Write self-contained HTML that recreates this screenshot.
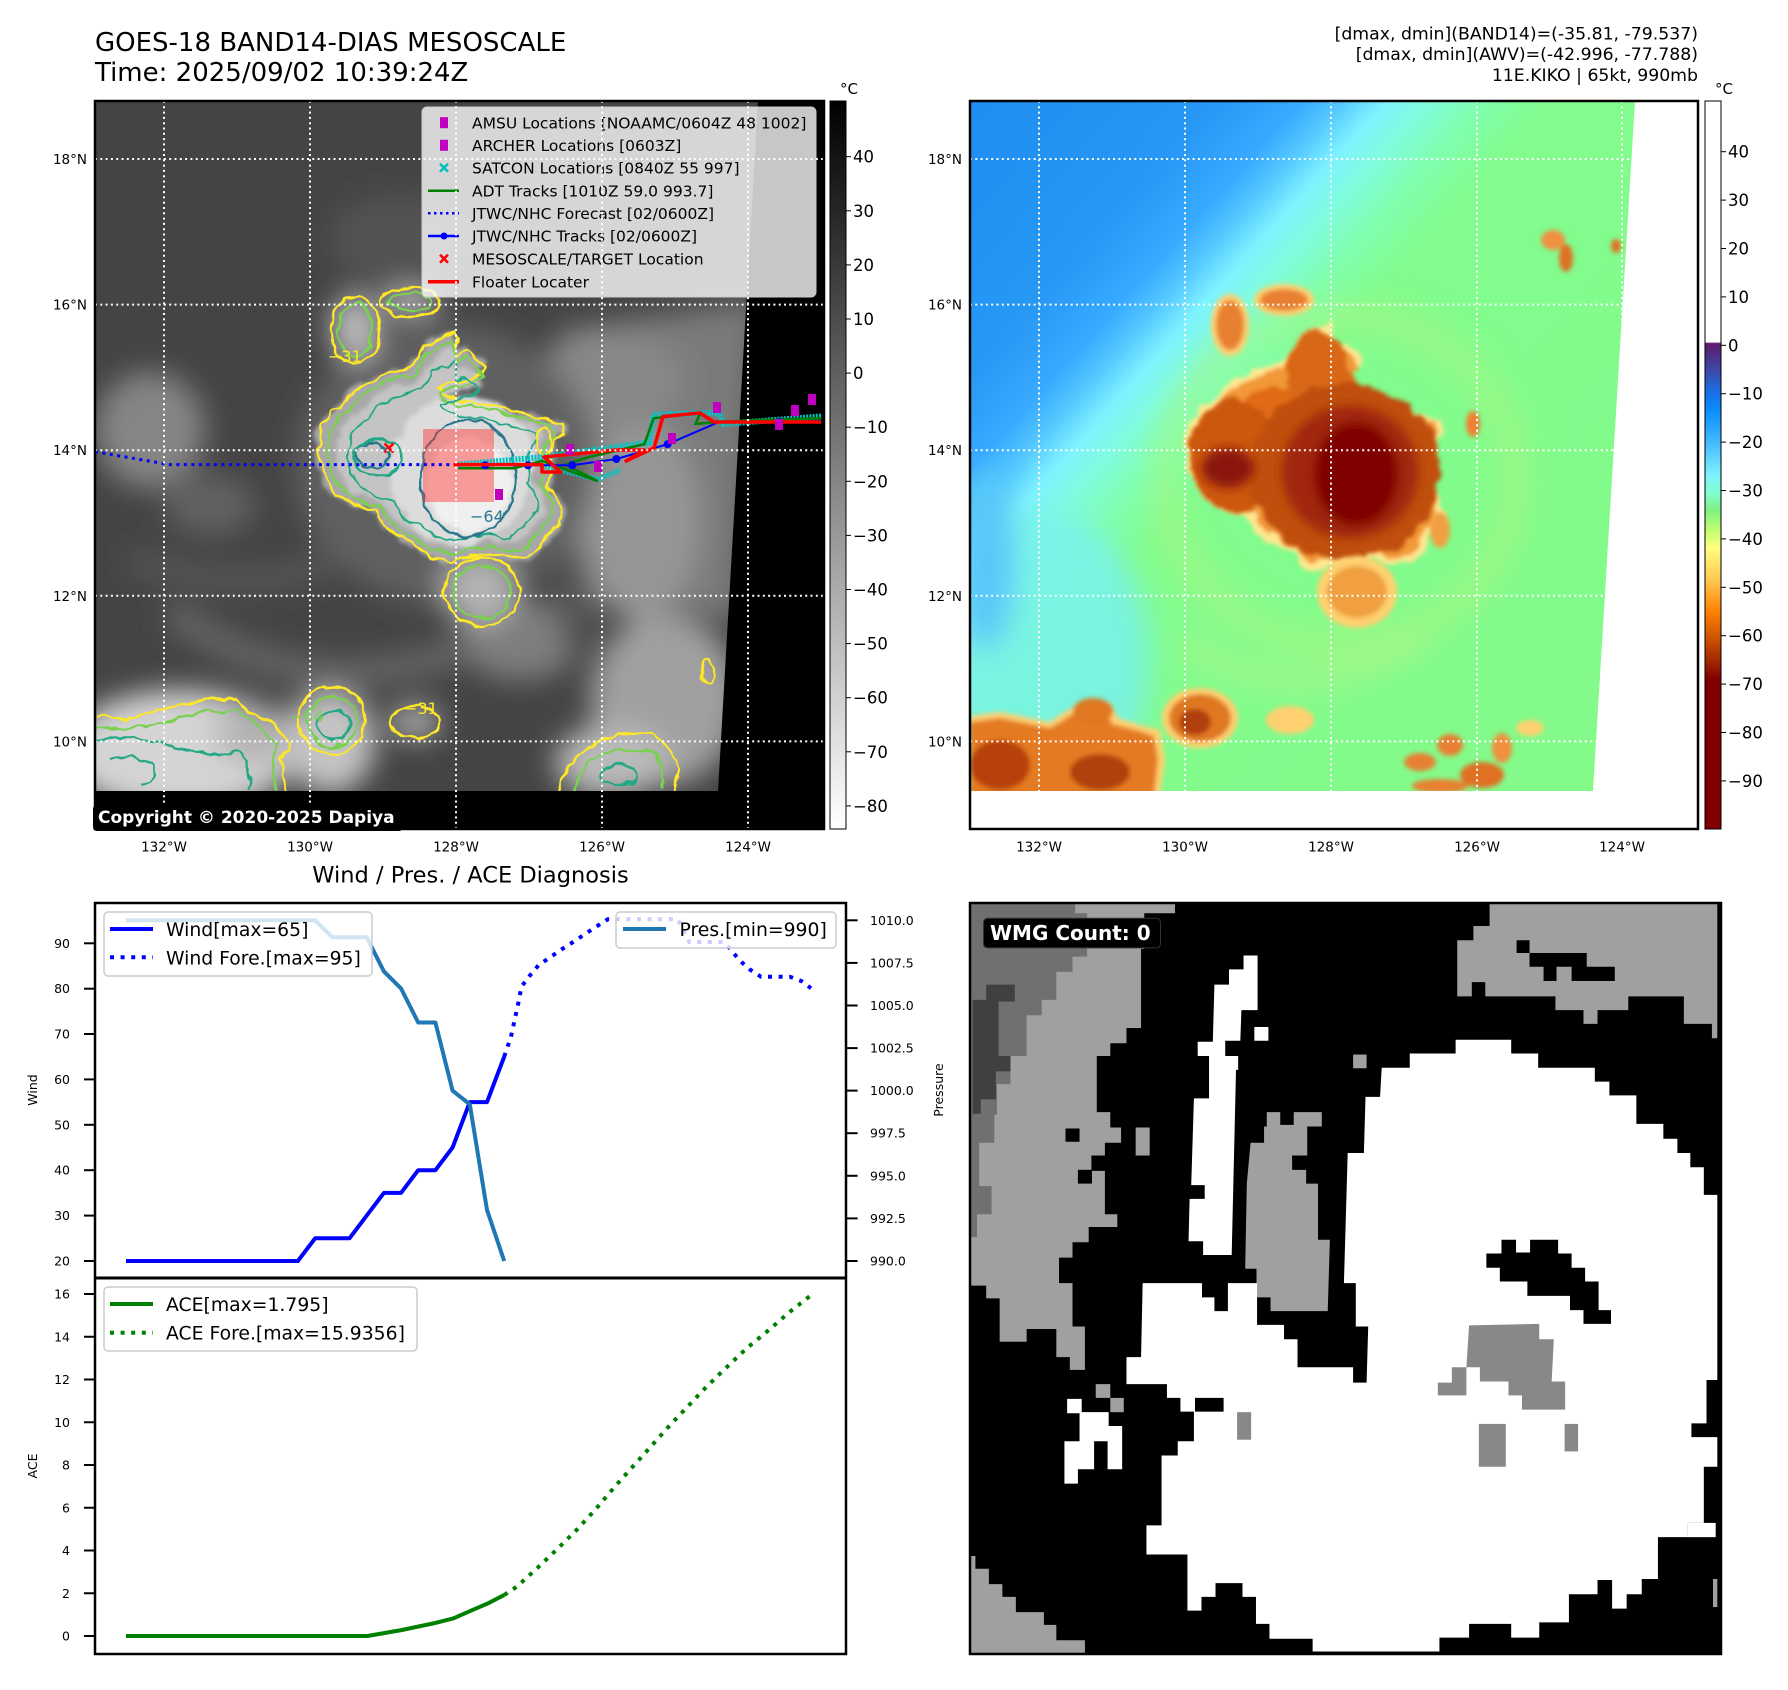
<!DOCTYPE html>
<html><head><meta charset="utf-8"><style>html,body{margin:0;padding:0;background:#fff}svg{display:block}</style></head><body>
<svg width="1788" height="1690" viewBox="0 0 1788 1690" xmlns="http://www.w3.org/2000/svg" xmlns:xlink="http://www.w3.org/1999/xlink" font-family="'DejaVu Sans','Liberation Sans',sans-serif">
<defs>
<clipPath id="lclip"><polygon points="95,101 758,101 718,791 95,791"/></clipPath>
<clipPath id="rclip"><polygon points="970,101 1635,101 1593,791 970,791"/></clipPath>
<clipPath id="laxes"><rect x="95" y="101" width="729" height="728"/></clipPath>
<clipPath id="raxes"><rect x="970" y="101" width="728" height="728"/></clipPath>
<filter id="b14" x="-50%" y="-50%" width="200%" height="200%"><feGaussianBlur stdDeviation="14"/></filter>
<filter id="b6" x="-30%" y="-30%" width="160%" height="160%"><feGaussianBlur stdDeviation="5"/></filter>
<filter id="b3" x="-30%" y="-30%" width="160%" height="160%"><feGaussianBlur stdDeviation="2.5"/></filter>
<filter id="jag" x="-10%" y="-10%" width="120%" height="120%"><feTurbulence type="fractalNoise" baseFrequency="0.07" numOctaves="2" seed="3" result="n"/><feDisplacementMap in="SourceGraphic" in2="n" scale="9" xChannelSelector="R" yChannelSelector="G"/></filter>
<filter id="jagb" x="-20%" y="-20%" width="140%" height="140%"><feTurbulence type="fractalNoise" baseFrequency="0.05" numOctaves="3" seed="7" result="n"/><feDisplacementMap in="SourceGraphic" in2="n" scale="16" xChannelSelector="R" yChannelSelector="G" result="d"/><feGaussianBlur in="d" stdDeviation="2"/></filter>
<linearGradient id="cb1" x1="0" y1="0" x2="0" y2="1"><stop offset="0" stop-color="#000"/><stop offset="1" stop-color="#fff"/></linearGradient>
<linearGradient id="cb2" x1="0" y1="0" x2="0" y2="1">
<stop offset="0" stop-color="#fff"/><stop offset="0.331" stop-color="#fff"/>
<stop offset="0.333" stop-color="#5e1a6c"/><stop offset="0.37" stop-color="#3c4aa8"/>
<stop offset="0.40" stop-color="#1a6ee6"/><stop offset="0.424" stop-color="#0a8cff"/>
<stop offset="0.466" stop-color="#40b6ff"/><stop offset="0.514" stop-color="#7ef2ff"/>
<stop offset="0.541" stop-color="#80ffc8"/><stop offset="0.562" stop-color="#80f080"/>
<stop offset="0.59" stop-color="#c0ff70"/><stop offset="0.613" stop-color="#ffff80"/>
<stop offset="0.658" stop-color="#ffc850"/><stop offset="0.702" stop-color="#ff8000"/>
<stop offset="0.747" stop-color="#c04800"/><stop offset="0.795" stop-color="#800000"/>
<stop offset="1" stop-color="#800000"/></linearGradient>
<linearGradient id="bgR" gradientUnits="userSpaceOnUse" x1="970" y1="101" x2="1735" y2="789">
<stop offset="0" stop-color="#1e8ef0"/><stop offset="0.18" stop-color="#2898f5"/>
<stop offset="0.24" stop-color="#38aaff"/><stop offset="0.27" stop-color="#55c8ff"/>
<stop offset="0.30" stop-color="#7ef2ff"/><stop offset="0.33" stop-color="#80fce0"/>
<stop offset="0.37" stop-color="#80ffb0"/><stop offset="0.42" stop-color="#82fc8e"/>
<stop offset="1" stop-color="#84fa88"/></linearGradient>
<path id="storm" d="M318.5,449.8 L323.1,423.9 L332.4,412.8 L346.4,401.7 L355.7,390.6 L374.3,379.5 L392.9,372.1 L411.6,368.4 L420.9,357.3 L425.5,346.2 L439.5,338.8 L453.5,331.4 L457.2,342.5 L455.8,357.3 L467.4,349.9 L481.4,361 L486.1,368.4 L472.1,377.6 L448.8,383.2 L439.5,386.9 L441.8,394.3 L462.8,401.7 L495.4,405.4 L518.7,412.8 L541.9,418.3 L560.6,423.9 L562.9,435 L553.6,438.7 L548.9,453.5 L551.2,472 L546.6,486.8 L555.9,494.2 L560.6,509 L560.6,523.8 L551.2,531.2 L541.9,542.3 L528,557.1 L514,557.1 L495.4,553.4 L467.4,557.1 L453.5,560.8 L430.2,557.1 L411.6,542.3 L392.9,534.9 L383.6,523.8 L374.3,509 L355.7,505.3 L337.1,494.2 L327.8,479.4 L320.8,468.3 Z"/>
</defs>
<rect width="1788" height="1690" fill="#fff"/>

<!-- Titles -->
<text x="95" y="51" font-size="26" fill="#000">GOES-18 BAND14-DIAS MESOSCALE</text>
<text x="95" y="81" font-size="26" fill="#000">Time: 2025/09/02 10:39:24Z</text>
<g font-size="17.3" fill="#000" text-anchor="end">
<text x="1698" y="39.5">[dmax, dmin](BAND14)=(-35.81, -79.537)</text>
<text x="1698" y="60">[dmax, dmin](AWV)=(-42.996, -77.788)</text>
<text x="1698" y="81">11E.KIKO | 65kt, 990mb</text>
</g>

<!-- ================= LEFT MAP ================= -->
<rect x="95" y="101" width="729" height="728" fill="#000"/>
<g clip-path="url(#lclip)">
<rect x="95" y="101" width="670" height="700" fill="#444444"/>
<g filter="url(#b14)">
<ellipse cx="400" cy="240" rx="70" ry="45" fill="#525252"/>
<ellipse cx="150" cy="430" rx="55" ry="58" fill="#858585"/>
<ellipse cx="210" cy="505" rx="45" ry="30" fill="#626262"/>
<path d="M170,610 Q300,710 460,650" fill="none" stroke="#686868" stroke-width="26"/>
<path d="M130,560 Q260,600 330,560" fill="none" stroke="#5a5a5a" stroke-width="20"/>
<polygon points="560,330 758,300 740,620 560,600" fill="#7a7a7a"/>
<ellipse cx="640" cy="520" rx="60" ry="100" fill="#969696"/>
<ellipse cx="665" cy="700" rx="75" ry="85" fill="#a0a0a0"/>
<ellipse cx="520" cy="640" rx="60" ry="40" fill="#7e7e7e"/>
<ellipse cx="610" cy="380" rx="75" ry="50" fill="#888888"/>
<ellipse cx="575" cy="600" rx="18" ry="55" fill="#555555"/>
<ellipse cx="445" cy="465" rx="150" ry="140" fill="#606060"/>
<ellipse cx="180" cy="752" rx="115" ry="62" fill="#d4d4d4"/>
<ellipse cx="330" cy="742" rx="45" ry="52" fill="#c4c4c4"/>
<ellipse cx="255" cy="735" rx="40" ry="30" fill="#b4b4b4"/>
<ellipse cx="612" cy="762" rx="58" ry="36" fill="#bababa"/>
<ellipse cx="415" cy="722" rx="26" ry="18" fill="#a8a8a8"/>
<ellipse cx="355" cy="328" rx="24" ry="34" fill="#bcbcbc"/>
<ellipse cx="410" cy="302" rx="30" ry="15" fill="#b0b0b0"/>
<ellipse cx="480" cy="590" rx="38" ry="36" fill="#b2b2b2"/>
</g>
<g filter="url(#jagb)">
<use xlink:href="#storm" href="#storm" fill="#a8a8a8" transform="translate(440 455) scale(1.03) translate(-440 -455)"/>
<use xlink:href="#storm" href="#storm" fill="#c4c4c4" transform="translate(445 460) scale(0.86) translate(-445 -460)"/>
<ellipse cx="462" cy="470" rx="72" ry="74" fill="#dcdcdc"/>
<ellipse cx="468" cy="484" rx="42" ry="48" fill="#f0f0f0"/>
</g>
<!-- contours -->
<g fill="none" stroke-width="2.4" stroke-linejoin="round" filter="url(#jag)">
<use xlink:href="#storm" href="#storm" stroke="#fde725"/>
<use xlink:href="#storm" href="#storm" stroke="#7ad151" transform="translate(445 460) scale(0.93) translate(-445 -460)"/>
<use xlink:href="#storm" href="#storm" stroke="#22a884" transform="translate(452 468) scale(0.78) translate(-452 -468)"/>
<ellipse cx="468" cy="478" rx="48" ry="58" stroke="#2a788e"/>
<ellipse cx="372" cy="455" rx="16" ry="12" stroke="#2a788e"/>
<ellipse cx="378" cy="458" rx="24" ry="18" stroke="#22a884"/>
<ellipse cx="355" cy="330" rx="24" ry="34" stroke="#fde725"/>
<ellipse cx="355" cy="330" rx="17" ry="27" stroke="#7ad151"/>
<ellipse cx="410" cy="302" rx="30" ry="15" stroke="#fde725"/>
<ellipse cx="410" cy="302" rx="22" ry="9" stroke="#7ad151"/>
<ellipse cx="482" cy="592" rx="38" ry="34" stroke="#fde725"/>
<ellipse cx="482" cy="592" rx="28" ry="26" stroke="#7ad151"/>
<path d="M95,716 L123,720 L151,712 L179,705 L197,701 L216,698 L235,699 L249,712 L267,720 L281,731 L290,742 L281,761 L286,792" stroke="#fde725"/>
<path d="M95,726 L125,730 L160,722 L200,712 L235,710 L262,728 L278,745 L272,765 L276,792" stroke="#7ad151"/>
<path d="M95,740 Q140,735 170,745 Q210,760 240,752 Q255,770 250,792" stroke="#22a884"/>
<path d="M110,760 Q130,750 150,765 Q160,780 140,785" stroke="#22a884"/>
<ellipse cx="332" cy="720" rx="34" ry="33" stroke="#fde725"/>
<ellipse cx="332" cy="722" rx="25" ry="25" stroke="#7ad151"/>
<ellipse cx="334" cy="726" rx="15" ry="15" stroke="#22a884"/>
<ellipse cx="415" cy="722" rx="24" ry="16" stroke="#fde725"/>
<path d="M560,792 Q565,760 590,745 Q620,730 650,735 Q675,745 677,770 L676,792" stroke="#fde725"/>
<path d="M572,792 Q580,765 605,752 Q630,745 655,752 Q665,770 662,792" stroke="#7ad151"/>
<ellipse cx="620" cy="775" rx="18" ry="10" stroke="#22a884"/>
<ellipse cx="708" cy="672" rx="6" ry="12" stroke="#fde725"/>
<ellipse cx="544" cy="442" rx="6" ry="14" stroke="#fde725"/>
</g>
<g font-size="16">
<text x="328" y="362" fill="#fde725">−31</text>
<text x="470" y="522" fill="#2a788e">−64</text>
<text x="404" y="714" fill="#fde725">−31</text>
<text x="290" y="722" fill="#7ad151">−54</text>
</g>
<rect x="423" y="429" width="71" height="73" fill="#ff3030" opacity="0.45"/>
</g>
<!-- tracks -->
<g clip-path="url(#laxes)">
<polyline points="95,451.6 169.5,464.6 453.5,464.6" fill="none" stroke="#0000ff" stroke-width="3" stroke-dasharray="3 4.5"/>
<polyline points="458,464.6 542,457.2 649,442.4 653.7,414.6 718.9,412.8 723.5,423.9 821.3,416.5" fill="none" stroke="#00c4c4" stroke-width="6" stroke-dasharray="2 1.2"/>
<polyline points="542,466 597.8,479.4 620,470" fill="none" stroke="#00c4c4" stroke-width="5" stroke-dasharray="2 1.2"/>
<polyline points="458.1,468.3 514,468.3 541.9,460.9 597.8,481.2 565.2,464.6 588.5,457.2 644.3,444.2 653.7,418.3 700.2,412.8 695.6,423.9 718.9,422 756.1,420.2 821.3,418.3" fill="none" stroke="#008000" stroke-width="2.5"/>
<polyline points="485.1,465.3 528,465.3 572.2,465.3 616.4,459 667.6,444.2 718.9,422 779.4,422 821,421" fill="none" stroke="#0000ff" stroke-width="2"/>
<g fill="#0000ff"><circle cx="485.1" cy="465.3" r="4"/><circle cx="528" cy="465.3" r="4"/><circle cx="572.2" cy="465.3" r="4"/><circle cx="616.4" cy="459" r="4"/><circle cx="667.6" cy="444.2" r="4"/><circle cx="779.4" cy="422" r="4"/></g>
<polyline points="453.5,464.6 542,464.6 542,472 560.5,472 544,457 616,450 644,450 626,461 654,448 663,416.5 700,413 714,422 821,422" fill="none" stroke="#ff0000" stroke-width="3.5" stroke-linejoin="round"/>
<g fill="#bf00bf">
<rect x="495" y="489" width="8" height="11"/><rect x="594" y="461" width="8" height="11"/><rect x="668" y="433" width="8" height="11"/><rect x="713" y="402" width="8" height="11"/><rect x="791" y="405" width="8" height="11"/><rect x="808" y="394" width="8" height="11"/><rect x="775" y="419" width="8" height="11"/><rect x="566" y="444" width="8" height="11"/>
</g>
<g stroke="#ff0000" stroke-width="2.5"><line x1="384.5" y1="443.5" x2="393.5" y2="452.5"/><line x1="393.5" y1="443.5" x2="384.5" y2="452.5"/></g>
</g>
<!-- legend -->
<rect x="422" y="107" width="394" height="190" rx="5" fill="#ffffff" fill-opacity="0.78" stroke="#cccccc" stroke-width="1"/>
<g font-size="15.5" fill="#000">
<text x="472" y="128.3">AMSU Locations [NOAAMC/0604Z 48 1002]</text>
<text x="472" y="150.9">ARCHER Locations [0603Z]</text>
<text x="472" y="173.3">SATCON Locations [0840Z 55 997]</text>
<text x="472" y="196.3">ADT Tracks [1010Z 59.0 993.7]</text>
<text x="472" y="218.9">JTWC/NHC Forecast [02/0600Z]</text>
<text x="472" y="241.6">JTWC/NHC Tracks [02/0600Z]</text>
<text x="472" y="264.3">MESOSCALE/TARGET Location</text>
<text x="472" y="287.3">Floater Locater</text>
</g>
<rect x="440" y="117.2" width="8" height="11" fill="#bf00bf"/>
<rect x="440" y="139.8" width="8" height="11" fill="#bf00bf"/>
<g stroke="#00bfbf" stroke-width="2.5"><line x1="440" y1="163.7" x2="448" y2="171.7"/><line x1="448" y1="163.7" x2="440" y2="171.7"/></g>
<line x1="428" y1="190.7" x2="459" y2="190.7" stroke="#008000" stroke-width="2.5"/>
<line x1="428" y1="213.3" x2="459" y2="213.3" stroke="#0000ff" stroke-width="2.5" stroke-dasharray="2.5 3.5"/>
<line x1="428" y1="236" x2="459" y2="236" stroke="#0000ff" stroke-width="2.5"/><circle cx="444" cy="236" r="3.5" fill="#0000ff"/>
<g stroke="#ff0000" stroke-width="2.5"><line x1="440" y1="254.7" x2="448" y2="262.7"/><line x1="448" y1="254.7" x2="440" y2="262.7"/></g>
<line x1="428" y1="281.7" x2="459" y2="281.7" stroke="#ff0000" stroke-width="3.5"/>
<!-- grid left -->
<g stroke="#ffffff" stroke-width="2" stroke-dasharray="2 3.3" clip-path="url(#laxes)">
<line x1="95" y1="159" x2="824" y2="159"/><line x1="95" y1="304.6" x2="824" y2="304.6"/><line x1="95" y1="450.2" x2="824" y2="450.2"/><line x1="95" y1="595.8" x2="824" y2="595.8"/><line x1="95" y1="741.4" x2="824" y2="741.4"/>
<line x1="164" y1="101" x2="164" y2="829"/><line x1="310" y1="101" x2="310" y2="829"/><line x1="456" y1="101" x2="456" y2="829"/><line x1="602" y1="101" x2="602" y2="829"/><line x1="748" y1="101" x2="748" y2="829"/>
</g>
<rect x="93" y="805" width="310" height="26" rx="4" fill="#000"/>
<text x="98" y="823" font-size="17" font-weight="bold" fill="#fff">Copyright © 2020-2025 Dapiya</text>
<rect x="95" y="101" width="729" height="728" fill="none" stroke="#000" stroke-width="2.5"/>
<!-- lat/lon labels left -->
<g font-size="13.5" fill="#000" text-anchor="end">
<text x="87" y="164">18°N</text><text x="87" y="309.6">16°N</text><text x="87" y="455.2">14°N</text><text x="87" y="600.8">12°N</text><text x="87" y="746.4">10°N</text>
</g>
<g font-size="13.5" fill="#000" text-anchor="middle">
<text x="164" y="851.5">132°W</text><text x="310" y="851.5">130°W</text><text x="456" y="851.5">128°W</text><text x="602" y="851.5">126°W</text><text x="748" y="851.5">124°W</text>
</g>
<!-- colorbar left -->
<rect x="830" y="101" width="16" height="728" fill="url(#cb1)" stroke="#000" stroke-width="1"/>
<text x="840" y="94" font-size="15" fill="#000">°C</text>
<g stroke="#000" stroke-width="1">
<line x1="846" y1="156.7" x2="851" y2="156.7"/><line x1="846" y1="210.8" x2="851" y2="210.8"/><line x1="846" y1="264.9" x2="851" y2="264.9"/><line x1="846" y1="319" x2="851" y2="319"/><line x1="846" y1="373.1" x2="851" y2="373.1"/><line x1="846" y1="427.2" x2="851" y2="427.2"/><line x1="846" y1="481.3" x2="851" y2="481.3"/><line x1="846" y1="535.4" x2="851" y2="535.4"/><line x1="846" y1="589.5" x2="851" y2="589.5"/><line x1="846" y1="643.6" x2="851" y2="643.6"/><line x1="846" y1="697.7" x2="851" y2="697.7"/><line x1="846" y1="751.8" x2="851" y2="751.8"/><line x1="846" y1="805.9" x2="851" y2="805.9"/>
</g>
<g font-size="16.5" fill="#000">
<text x="853" y="162.7">40</text><text x="853" y="216.8">30</text><text x="853" y="270.9">20</text><text x="853" y="325">10</text><text x="853" y="379.1">0</text><text x="853" y="433.2">−10</text><text x="853" y="487.3">−20</text><text x="853" y="541.4">−30</text><text x="853" y="595.5">−40</text><text x="853" y="649.6">−50</text><text x="853" y="703.7">−60</text><text x="853" y="757.8">−70</text><text x="853" y="811.9">−80</text>
</g>

<!-- ================= RIGHT MAP ================= -->
<rect x="970" y="101" width="728" height="728" fill="#fff"/>
<g clip-path="url(#rclip)">
<rect x="970" y="101" width="680" height="700" fill="url(#bgR)"/>
<g filter="url(#b14)">
<ellipse cx="1045" cy="660" rx="105" ry="150" fill="#78f2ec" opacity="0.85"/>
<ellipse cx="985" cy="560" rx="30" ry="90" fill="#58c8f8"/>
<ellipse cx="1340" cy="480" rx="175" ry="165" fill="none" stroke="#b0f880" stroke-width="30" opacity="0.5"/>
<path d="M1180,640 Q1290,720 1420,640" fill="none" stroke="#c0f888" stroke-width="18" opacity="0.55"/>
</g>
<g filter="url(#jagb)">
<use xlink:href="#storm" href="#storm" fill="#ffe890" transform="translate(875 0) translate(440 455) scale(1.07) translate(-440 -455)"/>
<use xlink:href="#storm" href="#storm" fill="#f29838" transform="translate(875 0)"/>
</g>
<g filter="url(#jagb)">
<use xlink:href="#storm" href="#storm" fill="#e06a14" transform="translate(875 0) translate(445 460) scale(0.85) translate(-445 -460)"/>
<ellipse cx="1235" cy="455" rx="45" ry="55" fill="#cc5810"/>
<ellipse cx="1318" cy="372" rx="30" ry="42" fill="#d86818"/>
<ellipse cx="1345" cy="472" rx="95" ry="88" fill="#c05010"/>
</g>
<g filter="url(#b6)">
<ellipse cx="1350" cy="472" rx="68" ry="66" fill="#a02808"/>
<ellipse cx="1356" cy="474" rx="42" ry="52" fill="#800000"/>
<ellipse cx="1228" cy="468" rx="26" ry="20" fill="#8a1808"/>
</g>
<g filter="url(#b3)">
<ellipse cx="1230" cy="325" rx="19" ry="31" fill="#ffd070"/>
<ellipse cx="1230" cy="325" rx="14" ry="25" fill="#e88030"/>
<ellipse cx="1284" cy="300" rx="30" ry="16" fill="#ffd070"/>
<ellipse cx="1284" cy="300" rx="24" ry="11" fill="#e88030"/>
<ellipse cx="1357" cy="592" rx="40" ry="36" fill="#ffd070"/>
<ellipse cx="1357" cy="592" rx="30" ry="26" fill="#f0a040"/>
<ellipse cx="1553" cy="240" rx="12" ry="10" fill="#f09040"/>
<ellipse cx="1566" cy="258" rx="7" ry="14" fill="#e07020"/>
<ellipse cx="1616" cy="246" rx="5" ry="7" fill="#e07020"/>
<ellipse cx="1473" cy="424" rx="7" ry="13" fill="#f08030"/>
<ellipse cx="1440" cy="530" rx="10" ry="18" fill="#f0a040"/>
<path d="M970,716 L1000,712 L1030,718 L1050,722 L1060,715 L1085,700 L1110,702 L1118,718 L1140,725 L1160,730 L1165,760 L1160,795 L970,795 Z" fill="#ffd070"/>
<path d="M970,722 L1000,718 L1030,724 L1050,728 L1062,721 L1085,706 L1106,708 L1112,724 L1140,731 L1154,736 L1158,760 L1154,795 L970,795 Z" fill="#e47a22"/>
<ellipse cx="1000" cy="765" rx="30" ry="25" fill="#b84008"/>
<ellipse cx="1100" cy="772" rx="30" ry="18" fill="#b04008"/>
<ellipse cx="1200" cy="718" rx="38" ry="30" fill="#ffd070"/>
<ellipse cx="1200" cy="718" rx="31" ry="24" fill="#e07820"/>
<ellipse cx="1195" cy="722" rx="16" ry="13" fill="#b04010"/>
<ellipse cx="1093" cy="711" rx="20" ry="13" fill="#e07820"/>
<ellipse cx="1420" cy="762" rx="16" ry="9" fill="#e88030"/>
<ellipse cx="1450" cy="745" rx="13" ry="11" fill="#e88030"/>
<ellipse cx="1482" cy="775" rx="22" ry="13" fill="#e07020"/>
<ellipse cx="1502" cy="748" rx="10" ry="15" fill="#f09040"/>
<ellipse cx="1440" cy="786" rx="28" ry="7" fill="#e88030"/>
<ellipse cx="1530" cy="728" rx="14" ry="8" fill="#ffd070"/>
<ellipse cx="1290" cy="720" rx="24" ry="14" fill="#ffd070"/>
</g>
</g>
<g stroke="#ffffff" stroke-width="2" stroke-dasharray="2 3.3" clip-path="url(#raxes)">
<line x1="970" y1="159" x2="1698" y2="159"/><line x1="970" y1="304.6" x2="1698" y2="304.6"/><line x1="970" y1="450.2" x2="1698" y2="450.2"/><line x1="970" y1="595.8" x2="1698" y2="595.8"/><line x1="970" y1="741.4" x2="1698" y2="741.4"/>
<line x1="1039" y1="101" x2="1039" y2="829"/><line x1="1185" y1="101" x2="1185" y2="829"/><line x1="1331" y1="101" x2="1331" y2="829"/><line x1="1477" y1="101" x2="1477" y2="829"/><line x1="1622" y1="101" x2="1622" y2="829"/>
</g>
<rect x="970" y="101" width="728" height="728" fill="none" stroke="#000" stroke-width="2.5"/>
<g font-size="13.5" fill="#000" text-anchor="end">
<text x="962" y="164">18°N</text><text x="962" y="309.6">16°N</text><text x="962" y="455.2">14°N</text><text x="962" y="600.8">12°N</text><text x="962" y="746.4">10°N</text>
</g>
<g font-size="13.5" fill="#000" text-anchor="middle">
<text x="1039" y="851.5">132°W</text><text x="1185" y="851.5">130°W</text><text x="1331" y="851.5">128°W</text><text x="1477" y="851.5">126°W</text><text x="1622" y="851.5">124°W</text>
</g>
<rect x="1705" y="101" width="16" height="728" fill="url(#cb2)" stroke="#000" stroke-width="1"/>
<text x="1715" y="94" font-size="15" fill="#000">°C</text>
<g stroke="#000" stroke-width="1">
<line x1="1721" y1="151.7" x2="1726" y2="151.7"/><line x1="1721" y1="200.1" x2="1726" y2="200.1"/><line x1="1721" y1="248.5" x2="1726" y2="248.5"/><line x1="1721" y1="296.9" x2="1726" y2="296.9"/><line x1="1721" y1="345.3" x2="1726" y2="345.3"/><line x1="1721" y1="393.7" x2="1726" y2="393.7"/><line x1="1721" y1="442.1" x2="1726" y2="442.1"/><line x1="1721" y1="490.5" x2="1726" y2="490.5"/><line x1="1721" y1="538.9" x2="1726" y2="538.9"/><line x1="1721" y1="587.3" x2="1726" y2="587.3"/><line x1="1721" y1="635.7" x2="1726" y2="635.7"/><line x1="1721" y1="684.1" x2="1726" y2="684.1"/><line x1="1721" y1="732.5" x2="1726" y2="732.5"/><line x1="1721" y1="780.9" x2="1726" y2="780.9"/>
</g>
<g font-size="16.5" fill="#000">
<text x="1728" y="157.7">40</text><text x="1728" y="206.1">30</text><text x="1728" y="254.5">20</text><text x="1728" y="302.9">10</text><text x="1728" y="351.3">0</text><text x="1728" y="399.7">−10</text><text x="1728" y="448.1">−20</text><text x="1728" y="496.5">−30</text><text x="1728" y="544.9">−40</text><text x="1728" y="593.3">−50</text><text x="1728" y="641.7">−60</text><text x="1728" y="690.1">−70</text><text x="1728" y="738.5">−80</text><text x="1728" y="786.9">−90</text>
</g>

<!-- ================= CHART ================= -->
<text x="470.5" y="882.5" font-size="22.5" fill="#000" text-anchor="middle">Wind / Pres. / ACE Diagnosis</text>
<g stroke="#000" stroke-width="2">
<line x1="84" y1="1261" x2="95" y2="1261"/><line x1="84" y1="1215.6" x2="95" y2="1215.6"/><line x1="84" y1="1170.2" x2="95" y2="1170.2"/><line x1="84" y1="1124.8" x2="95" y2="1124.8"/><line x1="84" y1="1079.4" x2="95" y2="1079.4"/><line x1="84" y1="1034" x2="95" y2="1034"/><line x1="84" y1="988.7" x2="95" y2="988.7"/><line x1="84" y1="943.3" x2="95" y2="943.3"/>
<line x1="846" y1="920.3" x2="857.6" y2="920.3"/><line x1="846" y1="962.9" x2="857.6" y2="962.9"/><line x1="846" y1="1005.5" x2="857.6" y2="1005.5"/><line x1="846" y1="1048.1" x2="857.6" y2="1048.1"/><line x1="846" y1="1090.6" x2="857.6" y2="1090.6"/><line x1="846" y1="1133.2" x2="857.6" y2="1133.2"/><line x1="846" y1="1175.8" x2="857.6" y2="1175.8"/><line x1="846" y1="1218.4" x2="857.6" y2="1218.4"/><line x1="846" y1="1261" x2="857.6" y2="1261"/>
<line x1="84" y1="1636" x2="95" y2="1636"/><line x1="84" y1="1593.25" x2="95" y2="1593.25"/><line x1="84" y1="1550.5" x2="95" y2="1550.5"/><line x1="84" y1="1507.75" x2="95" y2="1507.75"/><line x1="84" y1="1465" x2="95" y2="1465"/><line x1="84" y1="1422.25" x2="95" y2="1422.25"/><line x1="84" y1="1379.5" x2="95" y2="1379.5"/><line x1="84" y1="1336.75" x2="95" y2="1336.75"/><line x1="84" y1="1294" x2="95" y2="1294"/>
</g>
<g font-size="12.5" fill="#000" text-anchor="end">
<text x="70" y="1265.5">20</text><text x="70" y="1220.1">30</text><text x="70" y="1174.7">40</text><text x="70" y="1129.3">50</text><text x="70" y="1083.9">60</text><text x="70" y="1038.5">70</text><text x="70" y="993.2">80</text><text x="70" y="947.8">90</text>
<text x="70" y="1640.5">0</text><text x="70" y="1597.75">2</text><text x="70" y="1555">4</text><text x="70" y="1512.25">6</text><text x="70" y="1469.5">8</text><text x="70" y="1426.75">10</text><text x="70" y="1384">12</text><text x="70" y="1341.25">14</text><text x="70" y="1298.5">16</text>
</g>
<g font-size="12.5" fill="#000">
<text x="870" y="924.8">1010.0</text><text x="870" y="967.4">1007.5</text><text x="870" y="1010">1005.0</text><text x="870" y="1052.6">1002.5</text><text x="870" y="1095.1">1000.0</text><text x="870" y="1137.7">997.5</text><text x="870" y="1180.3">995.0</text><text x="870" y="1222.9">992.5</text><text x="870" y="1265.5">990.0</text>
</g>
<text transform="translate(37 1090) rotate(-90)" font-size="12.5" fill="#000" text-anchor="middle">Wind</text>
<text transform="translate(943 1090) rotate(-90)" font-size="12.5" fill="#000" text-anchor="middle">Pressure</text>
<text transform="translate(37 1466) rotate(-90)" font-size="12.5" fill="#000" text-anchor="middle">ACE</text>
<polyline points="126,1261 297.9,1261 315.1,1238.3 349.5,1238.3 366.7,1215.6 383.9,1192.9 401,1192.9 418.2,1170.2 435.4,1170.2 452.6,1147.5 469.8,1102.1 487,1102.1 504.2,1056.7" fill="none" stroke="#0000ff" stroke-width="4" stroke-linejoin="round"/>
<polyline points="504.2,1056.7 511,1036.7 518.6,1001.7 521.4,986.7 529.5,976 538.7,965 550.2,957.3 561.7,949.3 573.2,942 584.7,934.3 596.2,926.7 607.7,919.3 677.8,919.3 689.3,942 723.7,942 730.6,949.3 739.2,960 749.6,969.3 761,976.7 789.8,976.7 801.3,981 811,988.3" fill="none" stroke="#0000ff" stroke-width="4" stroke-dasharray="4 6.6"/>
<polyline points="126,920.3 315.1,920.3 332.3,937.3 366.7,937.3 383.9,971.4 401,988.4 418.2,1022.5 435.4,1022.5 452.6,1090.7 469.8,1104.3 487,1209.9 504.2,1261" fill="none" stroke="#1f77b4" stroke-width="4" stroke-linejoin="round"/>
<polyline points="126,1636 367.4,1636 401.9,1630 436.4,1622.7 453.6,1618.3 470.9,1610.7 488.1,1603.3 504.2,1595" fill="none" stroke="#008000" stroke-width="4" stroke-linejoin="round"/>
<polyline points="504.2,1595 516.8,1586.7 537,1568.3 557,1549.3 577.2,1529.3 595.6,1509.3 613.4,1488.3 631.8,1467.7 650.2,1447.3 668.6,1426.7 687.5,1406.7 706.5,1386.7 726.6,1367.3 746.7,1348.3 768,1330.7 788.7,1312.7 810,1296" fill="none" stroke="#008000" stroke-width="4" stroke-dasharray="4 6.6"/>
<rect x="104" y="912" width="268" height="64" rx="4" fill="#fff" fill-opacity="0.8" stroke="#cccccc" stroke-width="1.5"/>
<line x1="110" y1="929" x2="153" y2="929" stroke="#0000ff" stroke-width="4"/>
<line x1="110" y1="957.3" x2="153" y2="957.3" stroke="#0000ff" stroke-width="4" stroke-dasharray="4 6.6"/>
<text x="166" y="936" font-size="18.8" fill="#000">Wind[max=65]</text>
<text x="166" y="964.3" font-size="18.8" fill="#000">Wind Fore.[max=95]</text>
<rect x="616" y="912" width="220" height="36" rx="4" fill="#fff" fill-opacity="0.8" stroke="#cccccc" stroke-width="1.5"/>
<line x1="623" y1="929" x2="666" y2="929" stroke="#1f77b4" stroke-width="4"/>
<text x="679.5" y="936" font-size="18.8" fill="#000">Pres.[min=990]</text>
<rect x="104" y="1287" width="313" height="64" rx="4" fill="#fff" fill-opacity="0.8" stroke="#cccccc" stroke-width="1.5"/>
<line x1="110" y1="1304" x2="153" y2="1304" stroke="#008000" stroke-width="4"/>
<line x1="110" y1="1332.7" x2="153" y2="1332.7" stroke="#008000" stroke-width="4" stroke-dasharray="4 6.6"/>
<text x="166" y="1311" font-size="18.8" fill="#000">ACE[max=1.795]</text>
<text x="166" y="1339.7" font-size="18.8" fill="#000">ACE Fore.[max=15.9356]</text>
<rect x="95" y="903" width="751" height="751" fill="none" stroke="#000" stroke-width="2.5"/>
<line x1="95" y1="1278" x2="846" y2="1278" stroke="#000" stroke-width="3"/>

<!-- ================= WMG PANEL ================= -->
<svg x="970" y="903" width="750" height="751" viewBox="55 45 1390 1472" preserveAspectRatio="none">
<rect x="55" y="45" width="1390" height="1472" fill="#000"/>
<path fill="#a0a0a0" d="M55,45 L435,45 L435,65 L378,65 L378,135 L372,135 L372,290 L345,290 L345,320 L315,320 L315,345 L290,345 L290,455 L315,455 L315,485 L335,485 L335,515 L305,515 L305,540 L280,540 L280,570 L305,570 L305,655 L328,655 L328,680 L275,680 L275,710 L245,710 L245,740 L220,740 L220,790 L245,790 L245,875 L268,875 L268,960 L240,960 L240,935 L215,935 L215,880 L160,880 L160,905 L110,905 L110,820 L85,820 L85,795 L55,795 Z"/>
<path fill="#707070" d="M55,45 L250,45 L250,65 L272,65 L272,150 L245,150 L245,180 L215,180 L215,235 L188,235 L188,265 L160,265 L160,345 L130,345 L130,400 L105,400 L105,460 L100,460 L100,515 L72,515 L72,600 L95,600 L95,655 L68,655 L68,700 L55,700 Z"/>
<path fill="#404040" d="M85,205 L138,205 L138,238 L108,238 L108,345 L130,345 L130,375 L103,375 L103,430 L75,430 L75,458 L60,458 L60,235 L85,235 Z"/>
<rect x="232" y="487" width="26" height="26" fill="#000"/>
<rect x="255" y="568" width="26" height="27" fill="#000"/>
<rect x="362" y="485" width="26" height="55" fill="#a0a0a0"/>
<path fill="#a0a0a0" d="M1018,45 L1440,45 L1440,310 L1430,310 L1430,282 L1378,282 L1378,228 L1275,228 L1275,255 L1218,255 L1218,282 L1192,282 L1192,255 L1140,255 L1140,228 L1010,228 L1010,200 L985,200 L985,228 L958,228 L958,118 L988,118 L988,90 L1018,90 Z"/>
<rect x="1068" y="118" width="24" height="25" fill="#000"/>
<path fill="#000" d="M1092,143 L1198,143 L1198,170 L1250,170 L1250,198 L1170,198 L1170,170 L1142,170 L1142,198 L1118,198 L1118,170 L1092,170 Z"/>
<path fill="#fff" d="M562,148 L588,148 L588,255 L558,255 L556,315 L528,315 L528,345 L552,345 L552,372 L548,372 L540,735 L487,735 L487,708 L460,708 L462,625 L490,625 L490,598 L465,598 L470,428 L498,428 L498,345 L477,345 L477,317 L505,317 L508,205 L535,205 L535,175 L562,175 Z"/>
<rect x="582" y="288" width="26" height="27" fill="#fff"/>
<path fill="#a0a0a0" d="M605,455 L630,455 L630,480 L655,480 L655,455 L707,455 L707,483 L680,483 L680,540 L652,540 L652,568 L678,568 L678,595 L700,595 L700,705 L722,705 L718,845 L612,845 L612,818 L586,818 L586,762 L565,762 L568,595 L575,515 L600,515 L600,483 L605,483 Z"/>
<rect x="765" y="342" width="25" height="27" fill="#a0a0a0"/>
<path fill="#fff" d="M955,313 L1058,313 L1058,340 L1108,340 L1108,368 L1213,368 L1213,395 L1240,395 L1240,422 L1290,422 L1290,478 L1340,478 L1340,507 L1366,507 L1366,535 L1390,535 L1390,563 L1415,563 L1415,617 L1440,617 L1440,980 L1420,980 L1420,1065 L1392,1065 L1392,1092 L1440,1092 L1440,1150 L1415,1150 L1415,1260 L1385,1260 L1385,1288 L1330,1288 L1330,1370 L1300,1370 L1300,1400 L1272,1400 L1272,1428 L1245,1428 L1245,1372 L1218,1372 L1218,1400 L1165,1400 L1165,1455 L1110,1455 L1110,1485 L1058,1485 L1058,1458 L980,1458 L980,1485 L925,1485 L925,1512 L690,1512 L690,1487 L610,1487 L610,1458 L585,1458 L585,1405 L560,1405 L560,1378 L510,1378 L510,1405 L484,1405 L484,1432 L458,1432 L458,1322 L382,1322 L382,1265 L410,1265 L410,1128 L440,1128 L440,1100 L470,1100 L470,1042 L445,1042 L445,1015 L420,1015 L420,988 L345,988 L345,935 L372,935 L375,790 L485,790 L485,818 L508,818 L508,845 L533,845 L533,790 L587,790 L587,872 L637,872 L637,900 L662,900 L662,955 L765,955 L765,985 L790,985 L793,875 L770,875 L770,790 L748,790 L755,535 L785,535 L788,425 L815,425 L818,368 L870,368 L870,340 L955,340 Z"/>
<rect x="472" y="1015" width="53" height="27" fill="#000"/>
<rect x="1385" y="1260" width="52" height="28" fill="#fff"/>
<path fill="#000" d="M1040,705 L1067,705 L1067,730 L1093,730 L1093,705 L1145,705 L1145,732 L1170,732 L1170,760 L1195,760 L1195,787 L1220,787 L1220,843 L1243,843 L1243,870 L1192,870 L1192,843 L1167,843 L1167,815 L1088,815 L1088,787 L1037,787 L1037,760 L1012,760 L1012,732 L1040,732 Z"/>
<path fill="#888888" d="M980,873 L1110,870 L1110,900 L1137,900 L1133,983 L1158,983 L1158,1038 L1078,1038 L1078,1010 L1053,1010 L1053,983 L1000,983 L1000,955 L975,955 Z M948,955 L975,955 L975,1010 L922,1010 L922,985 L948,985 Z"/>
<rect x="998" y="1066" width="50" height="84" fill="#888888"/>
<rect x="1157" y="1066" width="25" height="54" fill="#888888"/>
<rect x="550" y="1043" width="26" height="54" fill="#888888"/>
<path fill="#fff" d="M235,1017 L262,1017 L262,1043 L312,1043 L312,1070 L337,1070 L337,1155 L310,1155 L310,1100 L285,1100 L285,1155 L255,1155 L255,1183 L230,1183 L230,1100 L258,1100 L258,1045 L235,1045 Z"/>
<rect x="288" y="988" width="27" height="27" fill="#a0a0a0"/>
<rect x="315" y="1015" width="25" height="28" fill="#a0a0a0"/>
<path fill="#a0a0a0" d="M55,1325 L65,1325 L65,1350 L90,1350 L90,1380 L115,1380 L115,1405 L140,1405 L140,1435 L192,1435 L192,1460 L215,1460 L215,1490 L268,1490 L268,1517 L55,1517 Z"/>
<rect x="1432" y="1370" width="8" height="55" fill="#a0a0a0"/>
</svg>
<rect x="983.5" y="918.3" width="177" height="29.6" rx="4" fill="#000" stroke="#333" stroke-width="1"/>
<text x="990" y="940" font-size="20" font-weight="bold" fill="#fff">WMG Count: 0</text>
<rect x="970" y="903" width="751" height="751" fill="none" stroke="#000" stroke-width="2.5"/>
</svg>
</body></html>
